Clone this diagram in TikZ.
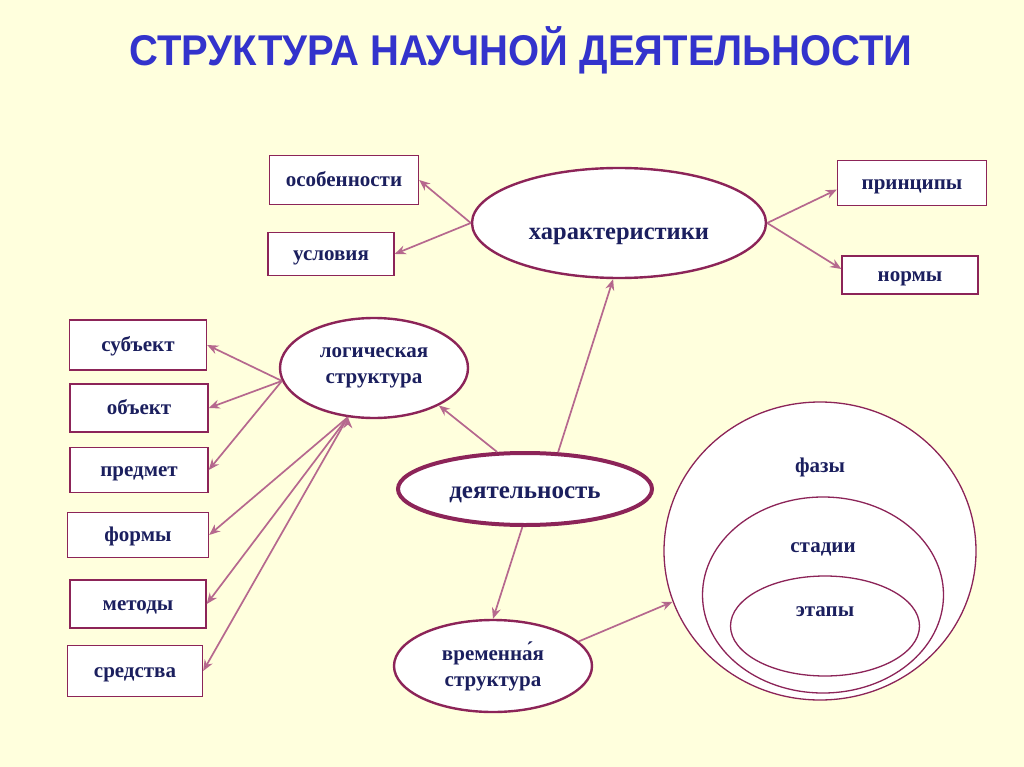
\documentclass[tikz,border=0pt]{standalone}
\usepackage{fontspec}
\setmainfont{Liberation Serif}
\newfontfamily\headfont{Liberation Sans}
\usetikzlibrary{shapes.geometric,arrows.meta}
\definecolor{bg}{RGB}{255,255,221}
\definecolor{rim}{RGB}{140,36,88}
\definecolor{ink}{RGB}{27,31,94}
\definecolor{wire}{RGB}{182,104,142}
\definecolor{headblue}{RGB}{51,51,204}

\begin{document}
\begin{tikzpicture}[x=1pt,y=-1pt,
    box/.style={rectangle,draw=rim,fill=white,line width=1.4pt,
      text height=17pt,text depth=4pt,
      font=\fontsize{21}{24}\selectfont\bfseries,text=ink},
    oval/.style={ellipse,draw=rim,fill=white,line width=2.4pt,inner sep=0pt,
      font=\fontsize{21}{26}\selectfont\bfseries,text=ink,align=center},
    ring/.style={ellipse,draw=rim,fill=white,line width=1.3pt,inner sep=0pt},
    word/.style={font=\fontsize{21}{24}\selectfont\bfseries,text=ink},
    link/.style={draw=wire,line width=1.7pt,-{Stealth[length=11pt,width=9pt]}}]
    \fill[bg] (0,0) rectangle (1024,767);
    \node (title) at (521,50) {\scalebox{0.93}[1]{\headfont\bfseries\fontsize{43}{48}\selectfont\color{headblue}СТРУКТУРА НАУЧНОЙ ДЕЯТЕЛЬНОСТИ}};
    % characteristics
    \node[oval,minimum width=294,minimum height=110,text height=38pt,text depth=5pt,
      font=\fontsize{24.5}{28}\selectfont\bfseries] (harakt) at (619,223) {характеристики};
    \node[box,minimum width=149,minimum height=49] (osob) at (344,180) {особенности};
    \node[box,minimum width=126,minimum height=43] (usl) at (331,254) {условия};
    \node[box,minimum width=149,minimum height=45] (princ) at (912,183) {принципы};
    \node[box,minimum width=136,minimum height=38] (norm) at (910,275) {нормы};
    % logical structure
    \node[oval,minimum width=188,minimum height=100] (logic) at (374,368) {логическая\\структура};
    \node[box,minimum width=137,minimum height=50] (subj) at (138,345) {субъект};
    \node[box,minimum width=138,minimum height=48] (obj) at (139,408) {объект};
    \node[box,minimum width=138,minimum height=45] (pred) at (139,470) {предмет};
    \node[box,minimum width=141,minimum height=45] (form) at (138,535) {формы};
    \node[box,minimum width=136,minimum height=48] (meth) at (138,604) {методы};
    \node[box,minimum width=135,minimum height=51] (sred) at (135,671) {средства};
    % activity
    \node[oval,line width=4pt,minimum width=254,minimum height=72,text height=24pt,text depth=5pt,
      font=\fontsize{25}{28}\selectfont\bfseries] (act) at (525,489) {деятельность};
    % time structure
    \node[oval,minimum width=198,minimum height=92] (vrem) at (493,666) {временн\'ая\\структура};
    \node[ring,minimum width=312,minimum height=298] (phase) at (820,551) {};
    \node[ring,minimum width=241,minimum height=196] (stage) at (823,595) {};
    \node[ring,minimum width=189,minimum height=100] (step) at (825,626) {};
    \node[word] (phasetxt) at (820,467) {фазы};
    \node[word] (stagetxt) at (823,549) {стадии};
    \node[word] (steptxt) at (825,612) {этапы};
    \path[link]
    (harakt.west) edge (osob.east)
                  edge (usl.east)
    (harakt.east) edge (princ.185)
                  edge (norm.175)
    (act.48) edge (harakt.264)
    (act.127) edge (logic.330)
    (act.266) edge (vrem.north)
    (vrem.16) edge (phase.199)
    (logic.188) edge (subj.east)
                edge (obj.east)
                edge (pred.east)
    (logic.242) edge (form.east)
                edge (meth.east)
                edge (sred.east)
          ;
  \end{tikzpicture}
\end{document}
